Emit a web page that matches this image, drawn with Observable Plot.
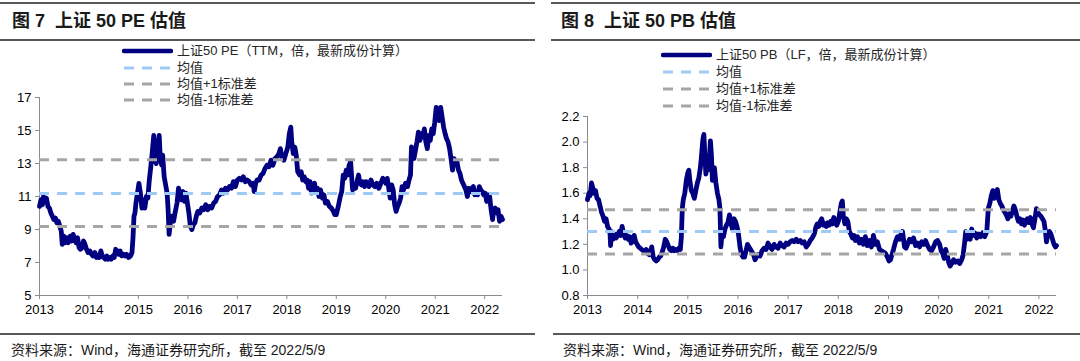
<!DOCTYPE html>
<html>
<head>
<meta charset="utf-8">
<script src="https://cdn.jsdelivr.net/npm/d3@7"></script>
<script src="https://cdn.jsdelivr.net/npm/@observablehq/plot@0.6"></script>
<style>
  html, body { margin: 0; padding: 0; background: #fff; }
  #root { position: relative; width: 1080px; height: 361px; overflow: hidden; font-family: "Liberation Sans", Arial, "Noto Sans CJK SC", sans-serif; }
  .rule { position: absolute; background: #595959; }
  .title { position: absolute; font-size: 18px; font-weight: bold; color: #1a1a1a; white-space: pre; line-height: 20px; font-family: "Liberation Sans", Arial, "Noto Sans CJK SC", sans-serif; }
  .caption { position: absolute; font-size: 14px; color: #1a1a1a; white-space: pre; line-height: 16px; font-family: "Liberation Sans", "Noto Sans CJK SC", sans-serif; }
  .leg { position: absolute; font-size: 13px; color: #262626; white-space: pre; line-height: 16px; display: flex; align-items: center; font-family: "Liberation Sans", Arial, "Noto Sans CJK SC", sans-serif; }
  .leg svg { margin-right: 4px; }
</style>
</head>
<body>
<div id="root"></div>
<script>
// ---------- data ----------
const titles = ["图 7  上证 50 PE 估值", "图 8  上证 50 PB 估值"];
const caption = "资料来源：Wind，海通证券研究所，截至 2022/5/9";
const peLegend = ["上证50 PE（TTM，倍，最新成份计算）", "均值", "均值+1标准差", "均值-1标准差"];
const pbLegend = ["上证50 PB（LF，倍，最新成份计算）", "均值", "均值+1标准差", "均值-1标准差"];
const yearTicks = [2013, 2014, 2015, 2016, 2017, 2018, 2019, 2020, 2021, 2022];
const peYTicks = [5, 7, 9, 11, 13, 15, 17];
const pbYTicks = [0.8, 1.0, 1.2, 1.4, 1.6, 1.8, 2.0, 2.2];

// reference levels: mean, mean+1sd, mean-1sd
const peLevels = [11.18, 13.22, 9.18];
const pbLevels = [1.30, 1.47, 1.125];

const peT = [2013.00,2013.03,2013.06,2013.08,2013.11,2013.14,2013.17,2013.20,2013.23,2013.26,2013.29,2013.32,2013.35,2013.38,2013.41,2013.44,2013.46,2013.49,2013.52,2013.55,2013.58,2013.62,2013.65,2013.68,2013.71,2013.74,2013.77,2013.80,2013.83,2013.86,2013.89,2013.92,2013.95,2013.98,
2014.02,2014.05,2014.08,2014.12,2014.15,2014.18,2014.21,2014.24,2014.27,2014.30,2014.33,2014.36,2014.39,2014.42,2014.45,2014.48,2014.51,2014.54,2014.57,2014.60,2014.63,2014.66,2014.70,2014.73,2014.76,2014.80,2014.84,2014.87,2014.89,2014.91,2014.93,2014.95,2014.98,
2015.01,2015.04,2015.07,2015.10,2015.13,2015.16,2015.19,2015.22,2015.25,2015.28,2015.31,2015.33,2015.36,2015.39,2015.42,2015.44,2015.47,2015.49,2015.52,2015.55,2015.58,2015.60,2015.62,2015.65,2015.68,2015.71,2015.74,2015.78,2015.81,2015.84,2015.87,2015.90,2015.93,2015.96,2015.99,
2016.02,2016.05,2016.08,2016.11,2016.14,2016.17,2016.20,2016.24,2016.28,2016.32,2016.36,2016.40,2016.44,2016.48,2016.52,2016.56,2016.60,2016.64,2016.68,2016.72,2016.76,2016.80,2016.84,2016.88,2016.92,2016.96,
2017.00,2017.04,2017.08,2017.12,2017.16,2017.20,2017.24,2017.28,2017.32,2017.34,2017.37,2017.40,2017.44,2017.48,2017.52,2017.56,2017.60,2017.64,2017.68,2017.72,2017.76,2017.80,2017.84,2017.87,2017.90,2017.94,2017.98,
2018.02,2018.05,2018.08,2018.10,2018.13,2018.16,2018.19,2018.22,2018.26,2018.29,2018.32,2018.35,2018.38,2018.41,2018.44,2018.47,2018.50,2018.53,2018.56,2018.59,2018.62,2018.65,2018.68,2018.72,2018.75,2018.78,2018.82,2018.86,2018.90,2018.94,2018.97,
2019.00,2019.04,2019.08,2019.11,2019.14,2019.17,2019.20,2019.23,2019.26,2019.29,2019.31,2019.33,2019.36,2019.39,2019.42,2019.45,2019.48,2019.51,2019.54,2019.57,2019.60,2019.63,2019.66,2019.70,2019.74,2019.78,2019.82,2019.86,2019.90,2019.94,2019.97,
2020.00,2020.03,2020.06,2020.09,2020.12,2020.15,2020.18,2020.21,2020.24,2020.27,2020.30,2020.33,2020.36,2020.40,2020.44,2020.47,2020.50,2020.52,2020.54,2020.57,2020.60,2020.63,2020.66,2020.69,2020.72,2020.75,2020.78,2020.81,2020.84,2020.87,2020.90,2020.93,2020.96,2020.99,
2021.02,2021.05,2021.08,2021.11,2021.14,2021.17,2021.20,2021.23,2021.26,2021.29,2021.32,2021.35,2021.38,2021.41,2021.44,2021.47,2021.50,2021.53,2021.56,2021.59,2021.62,2021.65,2021.68,2021.71,2021.74,2021.77,2021.80,2021.83,2021.86,2021.89,2021.92,2021.95,2021.98,
2022.01,2022.04,2022.07,2022.10,2022.13,2022.16,2022.18,2022.21,2022.24,2022.27,2022.30,2022.33,2022.36];
const peV = [10.4,10.8,10.5,11.0,10.7,10.9,10.4,10.3,10.0,9.8,9.6,9.7,9.4,9.5,9.2,8.9,8.1,8.6,8.2,8.5,8.2,8.6,8.3,8.7,8.4,8.2,8.5,7.9,7.8,7.9,8.3,8.1,7.8,7.6,
7.7,7.5,7.4,7.6,7.3,7.4,7.3,7.7,7.4,7.3,7.2,7.4,7.2,7.3,7.2,7.4,7.3,7.8,7.7,7.5,7.7,7.4,7.5,7.4,7.5,7.3,7.4,7.6,8.5,9.8,10.0,10.6,11.2,
11.8,11.2,10.3,10.8,10.3,11.0,10.9,12.0,12.8,13.7,14.7,13.2,13.0,14.0,14.7,13.4,12.9,13.5,12.2,11.7,11.2,10.2,8.7,9.6,9.8,9.5,10.0,10.6,11.5,11.0,10.8,11.3,10.7,11.2,10.6,
10.0,9.2,9.0,9.3,9.4,9.8,10.1,10.0,10.3,10.2,10.5,10.2,10.4,10.3,10.6,10.7,11.0,11.1,11.4,11.2,11.5,11.4,11.6,11.5,11.9,11.6,
12.0,12.1,12.0,12.2,11.9,12.0,11.9,11.7,11.8,11.3,11.8,12.0,12.0,12.3,12.4,12.7,12.9,12.8,13.2,12.9,13.3,13.4,13.6,13.9,13.4,13.2,13.6,
14.0,14.8,15.2,14.3,13.6,14.0,13.5,12.5,12.3,12.5,12.0,12.2,11.9,12.0,11.5,11.9,11.2,11.6,11.8,11.3,11.5,11.0,11.4,10.9,11.1,10.6,10.7,10.4,10.3,10.1,9.9,
9.9,10.4,11.0,11.3,12.3,12.1,12.6,12.3,12.9,13.1,12.2,11.4,11.6,11.5,11.9,12.3,11.8,11.7,11.9,11.6,11.9,11.8,11.6,12.0,11.7,11.6,11.8,11.5,11.8,12.1,12.0,
11.8,12.1,11.5,10.9,11.7,11.4,10.5,10.1,10.4,10.6,10.9,11.6,11.4,11.8,11.6,12.0,12.3,14.0,13.6,13.3,13.8,14.3,14.9,14.4,14.8,14.6,15.1,14.3,13.9,14.7,14.4,15.1,14.8,15.5,
16.4,15.8,15.6,16.4,15.8,15.2,14.8,14.5,14.3,13.9,13.3,12.6,13.3,13.0,13.1,12.6,12.4,12.0,11.8,11.6,11.4,11.0,11.5,11.3,11.5,11.6,11.1,11.3,11.1,11.6,11.4,11.3,11.1,
11.2,10.7,11.1,11.0,10.2,9.6,10.2,10.3,10.0,10.2,9.5,9.8,9.6];

const pbT = [2013.00,2013.03,2013.05,2013.08,2013.10,2013.13,2013.16,2013.19,2013.22,2013.25,2013.28,2013.31,2013.34,2013.37,2013.40,2013.43,2013.45,2013.46,2013.48,2013.51,2013.54,2013.57,2013.60,2013.63,2013.66,2013.69,2013.72,2013.75,2013.78,2013.81,2013.84,2013.87,2013.90,2013.93,2013.96,2013.99,
2014.02,2014.05,2014.08,2014.11,2014.14,2014.17,2014.20,2014.23,2014.26,2014.28,2014.31,2014.34,2014.37,2014.40,2014.43,2014.46,2014.49,2014.52,2014.55,2014.58,2014.61,2014.64,2014.67,2014.70,2014.73,2014.76,2014.79,2014.82,2014.85,2014.87,2014.89,2014.91,2014.94,2014.97,
2015.00,2015.02,2015.04,2015.07,2015.10,2015.13,2015.16,2015.19,2015.22,2015.25,2015.27,2015.30,2015.32,2015.34,2015.36,2015.38,2015.40,2015.43,2015.45,2015.47,2015.49,2015.51,2015.53,2015.56,2015.59,2015.62,2015.64,2015.66,2015.68,2015.71,2015.74,2015.77,2015.80,2015.83,2015.86,2015.89,2015.92,2015.95,2015.98,
2016.01,2016.04,2016.07,2016.10,2016.13,2016.16,2016.19,2016.22,2016.25,2016.28,2016.31,2016.34,2016.37,2016.40,2016.44,2016.48,2016.52,2016.56,2016.60,2016.64,2016.68,2016.72,2016.76,2016.80,2016.84,2016.88,2016.92,2016.96,
2017.00,2017.04,2017.08,2017.12,2017.16,2017.20,2017.24,2017.28,2017.32,2017.36,2017.40,2017.44,2017.48,2017.52,2017.55,2017.58,2017.61,2017.64,2017.67,2017.70,2017.73,2017.76,2017.79,2017.82,2017.85,2017.88,2017.91,2017.94,2017.97,
2018.00,2018.03,2018.06,2018.08,2018.10,2018.13,2018.16,2018.19,2018.22,2018.25,2018.28,2018.31,2018.34,2018.38,2018.42,2018.46,2018.50,2018.54,2018.58,2018.62,2018.66,2018.70,2018.74,2018.78,2018.82,2018.86,2018.90,2018.94,2018.98,
2019.01,2019.04,2019.07,2019.10,2019.14,2019.18,2019.22,2019.25,2019.28,2019.30,2019.32,2019.35,2019.38,2019.42,2019.46,2019.50,2019.54,2019.58,2019.62,2019.66,2019.70,2019.74,2019.78,2019.82,2019.86,2019.90,2019.94,2019.98,
2020.02,2020.05,2020.08,2020.11,2020.14,2020.17,2020.20,2020.23,2020.26,2020.30,2020.34,2020.38,2020.42,2020.46,2020.49,2020.52,2020.54,2020.57,2020.60,2020.63,2020.66,2020.69,2020.72,2020.76,2020.80,2020.84,2020.88,2020.92,2020.96,2020.99,
2021.02,2021.05,2021.08,2021.11,2021.14,2021.17,2021.20,2021.23,2021.26,2021.29,2021.32,2021.35,2021.38,2021.41,2021.44,2021.47,2021.50,2021.53,2021.56,2021.59,2021.62,2021.65,2021.68,2021.71,2021.74,2021.77,2021.80,2021.83,2021.86,2021.89,2021.92,2021.95,2021.98,
2022.01,2022.04,2022.07,2022.10,2022.13,2022.15,2022.18,2022.21,2022.24,2022.27,2022.30,2022.33,2022.35];
const pbV = [1.55,1.60,1.58,1.68,1.65,1.60,1.62,1.56,1.55,1.50,1.45,1.42,1.38,1.40,1.34,1.32,1.28,1.19,1.30,1.24,1.28,1.25,1.27,1.30,1.27,1.34,1.28,1.25,1.27,1.24,1.26,1.21,1.23,1.27,1.22,1.20,
1.18,1.17,1.16,1.15,1.14,1.16,1.13,1.12,1.15,1.18,1.10,1.08,1.07,1.08,1.10,1.11,1.14,1.18,1.24,1.22,1.19,1.16,1.15,1.17,1.15,1.16,1.15,1.17,1.16,1.25,1.48,1.55,1.60,1.70,
1.76,1.78,1.70,1.62,1.60,1.56,1.62,1.68,1.72,1.80,1.88,2.02,2.06,1.90,1.75,1.82,1.78,1.86,2.01,1.90,1.70,1.78,1.80,1.68,1.60,1.55,1.48,1.18,1.28,1.26,1.32,1.35,1.37,1.43,1.36,1.32,1.40,1.38,1.34,
1.28,1.18,1.12,1.10,1.10,1.15,1.20,1.18,1.16,1.14,1.12,1.08,1.10,1.12,1.11,1.15,1.17,1.16,1.21,1.18,1.16,1.20,1.18,1.17,1.21,1.19,1.18,1.21,
1.20,1.22,1.23,1.22,1.24,1.22,1.23,1.21,1.22,1.18,1.20,1.23,1.25,1.28,1.33,1.36,1.34,1.38,1.40,1.35,1.36,1.34,1.37,1.35,1.38,1.36,1.41,1.37,1.35,
1.38,1.45,1.52,1.54,1.42,1.36,1.40,1.38,1.30,1.28,1.25,1.27,1.23,1.26,1.21,1.24,1.20,1.26,1.19,1.23,1.18,1.27,1.20,1.22,1.16,1.15,1.14,1.13,1.10,
1.07,1.08,1.12,1.16,1.22,1.26,1.24,1.28,1.30,1.24,1.18,1.17,1.20,1.24,1.22,1.25,1.19,1.21,1.18,1.22,1.20,1.23,1.19,1.16,1.15,1.18,1.22,1.23,
1.20,1.15,1.13,1.09,1.16,1.12,1.06,1.03,1.05,1.08,1.06,1.07,1.05,1.08,1.12,1.22,1.30,1.24,1.27,1.24,1.32,1.27,1.29,1.25,1.28,1.26,1.29,1.26,1.30,1.48,
1.52,1.58,1.62,1.56,1.60,1.63,1.55,1.52,1.50,1.47,1.45,1.43,1.40,1.44,1.42,1.46,1.50,1.47,1.42,1.38,1.40,1.36,1.39,1.35,1.38,1.40,1.37,1.41,1.36,1.33,1.40,1.48,1.45,
1.43,1.42,1.40,1.38,1.30,1.22,1.29,1.30,1.28,1.24,1.20,1.18,1.19];

// ---------- styles ----------
const NAVY = "#000080", LBLUE = "#9DCBF5", GRAY = "#A6A6A6", AXIS = "#8C8C8C";
const root = document.getElementById("root");

function add(html) { root.insertAdjacentHTML("beforeend", html); }

// rules, titles, captions
add(`<div class="rule" style="left:0;top:2px;width:535px;height:2px"></div>`);
add(`<div class="rule" style="left:0;top:39px;width:535px;height:1.5px"></div>`);
add(`<div class="rule" style="left:551px;top:2px;width:529px;height:2px"></div>`);
add(`<div class="rule" style="left:551px;top:39px;width:529px;height:1.5px"></div>`);
add(`<div class="rule" style="left:0;top:333px;width:535px;height:2px"></div>`);
add(`<div class="rule" style="left:553px;top:333px;width:527px;height:2px"></div>`);
add(`<div class="title" style="left:12px;top:11px">${titles[0]}</div>`);
add(`<div class="title" style="left:561px;top:11px">${titles[1]}</div>`);
add(`<div class="caption" style="left:11px;top:342px">${caption}</div>`);
add(`<div class="caption" style="left:563px;top:342px">${caption}</div>`);

function legend(labels, x, ys) {
  const styles = [
    {stroke: NAVY, w: 4.5, dash: null},
    {stroke: LBLUE, w: 3, dash: "10 8"},
    {stroke: GRAY, w: 3, dash: "10 8"},
    {stroke: GRAY, w: 3, dash: "10 8"}
  ];
  labels.forEach((lab, i) => {
    const s = styles[i];
    add(`<div class="leg" style="left:${x}px;top:${ys[i] - 8}px"><svg width="51" height="10"><line x1="2" x2="49" y1="5" y2="5" stroke="${s.stroke}" stroke-width="${s.w}" ${s.dash ? `stroke-dasharray="${s.dash}"` : 'stroke-linecap="round"'}/></svg><span>${lab}</span></div>`);
  });
}
legend(peLegend, 122, [51, 67.5, 84, 100]);
legend(pbLegend, 661, [55, 72, 89, 106]);

function chart(T, V, levels, yTicks, yDomain, fmt, opts) {
  const data = T.map((t, i) => ({t, v: V[i]}));
  const xEnd = T[T.length - 1];
  const svg = Plot.plot({
    width: 540, height: opts.height,
    marginLeft: opts.ml, marginRight: opts.mr, marginTop: opts.mt, marginBottom: 25,
    style: {fontSize: "13px", fontFamily: "Liberation Sans, Arial, sans-serif", color: "#000", background: "transparent", overflow: "visible"},
    x: {domain: [2013, xEnd], label: null},
    y: {domain: yDomain, label: null},
    marks: [
      Plot.ruleX([2013], {stroke: AXIS, strokeWidth: 1}),
      Plot.ruleY([yDomain[0]], {stroke: AXIS, strokeWidth: 1}),
      Plot.axisY({ticks: yTicks, tickSize: 4, tickPadding: 4, tickFormat: fmt, label: null}),
      Plot.axisX({ticks: yearTicks, tickSize: 4, tickPadding: 5, tickFormat: d => String(d), label: null}),
      Plot.line(data, {x: "t", y: "v", stroke: NAVY, strokeWidth: 4.8, strokeLinejoin: "round", strokeLinecap: "round"}),
      Plot.ruleY([levels[0]], {stroke: LBLUE, strokeWidth: 3, strokeDasharray: "10,8"}),
      Plot.ruleY([levels[1], levels[2]], {stroke: GRAY, strokeWidth: 3, strokeDasharray: "10,8"})
    ]
  });
  svg.querySelectorAll('[aria-label$="tick"] path, [aria-label$="tick"]').forEach(el => {
    if (el.getAttribute("stroke")) el.setAttribute("stroke", AXIS);
  });
  svg.style.position = "absolute";
  svg.style.left = opts.left + "px";
  svg.style.top = opts.top + "px";
  root.appendChild(svg);
}

chart(peT, peV, peLevels, peYTicks, [5, 17], d => String(d),
  {left: 0, top: 88, height: 232, ml: 39, mr: 38, mt: 9});
chart(pbT, pbV, pbLevels, pbYTicks, [0.8, 2.2], d => d.toFixed(1),
  {left: 540, top: 106, height: 214, ml: 47, mr: 24, mt: 10});
</script>
</body>
</html>
